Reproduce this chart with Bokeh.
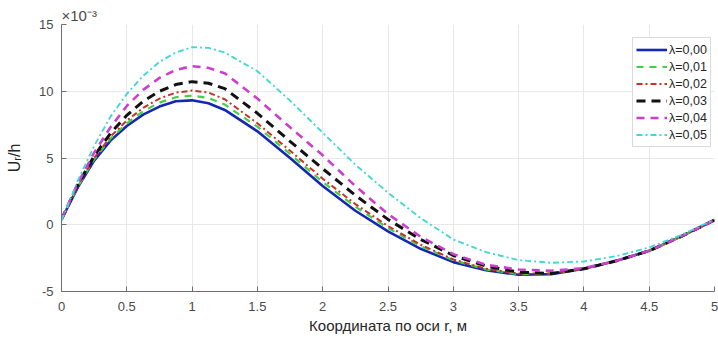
from bokeh.plotting import figure
from bokeh.models import FixedTicker, CustomJSTickFormatter, Legend, LegendItem
from bokeh.embed import file_html
from bokeh.resources import INLINE

# radial coordinate r, m
r = [0, 0.125, 0.25, 0.375, 0.5, 0.625, 0.75, 0.875, 1.0, 1.125, 1.25, 1.5, 1.75,
     2.0, 2.25, 2.5, 2.75, 3.0, 3.25, 3.5, 3.75, 4.0, 4.25, 4.5, 4.75, 5.0]

# U_r/h in units of 1e-3, one series per lambda
ur_000 = [0.4, 2.8, 4.8, 6.3, 7.4, 8.25, 8.85, 9.25, 9.32, 9.1, 8.6, 7.0, 5.0,
          2.9, 1.05, -0.5, -1.8, -2.8, -3.4, -3.75, -3.7, -3.3, -2.7, -1.95, -0.85, 0.35]
ur_001 = [0.4, 2.85, 4.9, 6.45, 7.6, 8.5, 9.15, 9.55, 9.68, 9.5, 9.0, 7.35, 5.3,
          3.2, 1.35, -0.25, -1.6, -2.65, -3.35, -3.7, -3.65, -3.3, -2.7, -1.95, -0.85, 0.35]
ur_002 = [0.4, 2.9, 5.0, 6.6, 7.8, 8.75, 9.45, 9.9, 10.05, 9.9, 9.4, 7.6, 5.55,
          3.45, 1.55, -0.1, -1.5, -2.6, -3.3, -3.65, -3.65, -3.3, -2.7, -1.95, -0.85, 0.35]
ur_003 = [0.4, 3.0, 5.15, 6.85, 8.2, 9.25, 10.0, 10.5, 10.72, 10.6, 10.2, 8.35, 6.25,
          4.2, 2.2, 0.4, -1.1, -2.3, -3.1, -3.55, -3.65, -3.3, -2.7, -1.95, -0.85, 0.35]
ur_004 = [0.4, 3.1, 5.4, 7.3, 8.9, 10.1, 11.0, 11.6, 11.88, 11.75, 11.35, 9.45, 7.3,
          5.2, 2.9, 0.8, -0.9, -2.2, -3.0, -3.35, -3.45, -3.25, -2.7, -1.95, -0.85, 0.35]
ur_005 = [0.3, 3.3, 5.9, 8.1, 9.8, 11.15, 12.2, 12.9, 13.3, 13.25, 12.9, 11.5, 9.3,
          6.9, 4.5, 2.4, 0.5, -1.1, -2.05, -2.65, -2.85, -2.75, -2.35, -1.7, -0.75, 0.4]

legend_labels = ["λ=0,00", "λ=0,01", "λ=0,02", "λ=0,03", "λ=0,04", "λ=0,05"]
x_ticks = [0, 0.5, 1, 1.5, 2, 2.5, 3, 3.5, 4, 4.5, 5]
y_ticks = [-5, 0, 5, 10, 15]

series = [ur_000, ur_001, ur_002, ur_003, ur_004, ur_005]
styles = [
    dict(color="#1428b4", line_width=2.6, line_dash="solid"),
    dict(color="#45cf45", line_width=2.2, line_dash="7 6"),
    dict(color="#c8302a", line_width=2.0, line_dash="6 3 2 3"),
    dict(color="#111111", line_width=3.0, line_dash="9 6"),
    dict(color="#cc3fcc", line_width=2.6, line_dash="8 6"),
    dict(color="#45d6d6", line_width=1.9, line_dash="6 3 2 3"),
]

FONT = "Liberation Sans"
TICK_COLOR = "#4a4a4a"

p = figure(width=718, height=343, output_backend="svg", toolbar_location=None,
           x_range=(0, 5), y_range=(-5, 15),
           min_border_left=61, min_border_right=4, min_border_top=24, min_border_bottom=52)
p.outline_line_color = None
p.background_fill_color = "white"
p.border_fill_color = "white"

# exponent of the y axis, shown above the axis
p.title.text = "×10⁻³"
p.title.align = "left"
p.title.text_font = FONT
p.title.text_font_size = "15px"
p.title.text_font_style = "normal"
p.title.text_color = TICK_COLOR
p.title.standoff = 2
p.title.offset = 0

renderers = []
for ys, st in zip(series, styles):
    renderers.append(p.line(r, ys, **st))

# axes
for ax in (p.xaxis[0], p.yaxis[0]):
    ax.axis_line_color = "#6e6e6e"
    ax.major_tick_line_color = "#6e6e6e"
    ax.major_tick_in = 5
    ax.major_tick_out = 0
    ax.minor_tick_line_color = None
    ax.major_label_text_font = FONT
    ax.major_label_text_font_size = "13px"
    ax.major_label_text_color = TICK_COLOR

p.xaxis.ticker = FixedTicker(ticks=x_ticks)
p.yaxis.ticker = FixedTicker(ticks=y_ticks)
p.xaxis.formatter = CustomJSTickFormatter(code="return String(tick);")
p.yaxis.formatter = CustomJSTickFormatter(code="return String(tick);")
p.xaxis.major_label_standoff = 10
p.yaxis.major_label_standoff = 8

p.xaxis.axis_label = "Координата по оси r, м"
p.xaxis.axis_label_text_font = FONT
p.xaxis.axis_label_text_font_size = "15px"
p.xaxis.axis_label_text_font_style = "normal"
p.xaxis.axis_label_text_color = "#262626"
p.xaxis.axis_label_standoff = 3

p.yaxis.axis_label = "Uᵣ/h"
p.yaxis.axis_label_text_font = FONT
p.yaxis.axis_label_text_font_size = "16px"
p.yaxis.axis_label_text_font_style = "normal"
p.yaxis.axis_label_text_color = "#262626"
p.yaxis.axis_label_standoff = 13

p.xgrid.grid_line_color = "#e8e8e8"
p.ygrid.grid_line_color = "#e8e8e8"
p.xgrid.ticker = FixedTicker(ticks=x_ticks)
p.ygrid.ticker = FixedTicker(ticks=y_ticks)

legend = Legend(items=[LegendItem(label=lab, renderers=[rr]) for lab, rr in zip(legend_labels, renderers)],
                location=(571, 144))
legend.label_text_font = FONT
legend.label_text_font_size = "12.5px"
legend.label_text_color = "#262626"
legend.glyph_width = 31
legend.glyph_height = 17
legend.label_height = 17
legend.label_standoff = 2
legend.spacing = 0
legend.padding = 3
legend.margin = 0
legend.border_line_color = "#b5b5b5"
legend.border_line_width = 1
legend.background_fill_alpha = 1.0
p.add_layout(legend)

open("out.html", "w").write(file_html(p, INLINE))
